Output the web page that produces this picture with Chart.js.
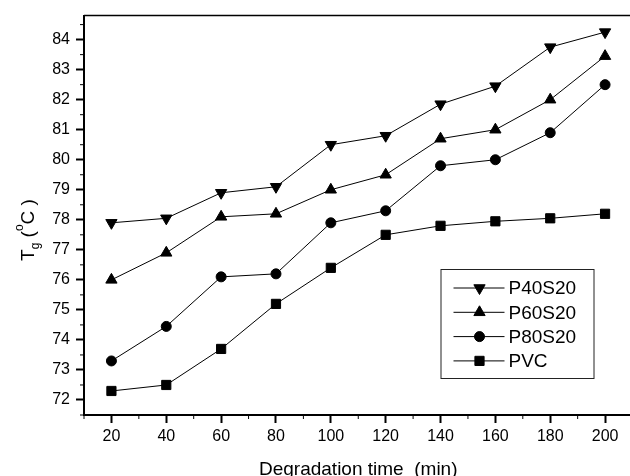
<!DOCTYPE html>
<html>
<head>
<meta charset="utf-8">
<script src="https://cdn.jsdelivr.net/npm/chart.js@4"></script>
<style>
    html, body { margin: 0; padding: 0; background: #fff; overflow: hidden; }
    #wrap { width: 640px; height: 476px; }
</style>
</head>
<body>
<div id="wrap"><canvas id="tgChart" width="640" height="476"></canvas></div>
<script>
const times = [20, 40, 60, 80, 100, 120, 140, 160, 180, 200];
const p40s20 = [77.9, 78.05, 78.9, 79.1, 80.5, 80.8, 81.85, 82.45, 83.75, 84.25];
const p60s20 = [76.0, 76.9, 78.1, 78.2, 79.0, 79.5, 80.7, 81.0, 82.0, 83.45];
const p80s20 = [73.3, 74.45, 76.1, 76.2, 77.9, 78.3, 79.8, 80.0, 80.9, 82.5];
const pvc    = [72.3, 72.5, 73.7, 75.2, 76.4, 77.5, 77.8, 77.95, 78.05, 78.2];

const xTicks = [20, 40, 60, 80, 100, 120, 140, 160, 180, 200];
const yTicks = [72, 73, 74, 75, 76, 77, 78, 79, 80, 81, 82, 83, 84];
const xMinor = [10, 30, 50, 70, 90, 110, 130, 150, 170, 190, 210];
const yMinor = [71.5, 72.5, 73.5, 74.5, 75.5, 76.5, 77.5, 78.5, 79.5, 80.5, 81.5, 82.5, 83.5, 84.5];

const FONT = "'Liberation Sans', Arial, sans-serif";
Chart.defaults.font.family = FONT;
Chart.defaults.color = '#000';

const toPoints = (vals) => times.map((t, i) => ({x: t, y: vals[i]}));

const seriesStyle = (label, vals, style, radius, rotation) => ({
    label: label,
    data: toPoints(vals),
    borderColor: '#000',
    borderWidth: 1,
    backgroundColor: '#000',
    pointStyle: style,
    pointRadius: radius,
    pointRotation: rotation,
    pointBackgroundColor: '#000',
    pointBorderColor: '#000',
    pointBorderWidth: 1,
    tension: 0
});

function drawMarker(ctx, style, radius, rotation, x, y) {
    if (Chart.helpers && Chart.helpers.drawPoint) {
        ctx.fillStyle = '#000';
        ctx.strokeStyle = '#000';
        ctx.lineWidth = 1;
        Chart.helpers.drawPoint(ctx, {pointStyle: style, radius: radius, rotation: rotation, borderWidth: 1}, x, y);
    }
}

const extras = {
    id: 'extras',
    afterDraw(chart) {
        const {ctx, chartArea: a, scales: {x, y}} = chart;
        ctx.save();
        ctx.strokeStyle = '#000';

        // top and right of the frame
        ctx.lineWidth = 1.5;
        ctx.beginPath();
        ctx.moveTo(a.left, a.top);
        ctx.lineTo(a.right, a.top);
        ctx.lineTo(a.right, a.bottom);
        ctx.stroke();

        // minor ticks
        ctx.lineWidth = 1;
        ctx.beginPath();
        xMinor.forEach(v => {
            const px = x.getPixelForValue(v);
            ctx.moveTo(px, a.bottom);
            ctx.lineTo(px, a.bottom + 4);
        });
        yMinor.forEach(v => {
            const py = y.getPixelForValue(v);
            ctx.moveTo(a.left, py);
            ctx.lineTo(a.left - 4, py);
        });
        ctx.stroke();

        // x title
        ctx.fillStyle = '#000';
        ctx.font = '19px ' + FONT;
        ctx.textAlign = 'center';
        ctx.textBaseline = 'alphabetic';
        ctx.fillText('Degradation time  (min)', (a.left + a.right) / 2, 475);

        // y title: T_g (°C)
        const parts = [
            {t: 'T', size: 19, dy: 0},
            {t: 'g', size: 12, dy: 5},
            {t: ' (', size: 19, dy: 0},
            {t: 'o', size: 12, dy: -11},
            {t: 'C', size: 19, dy: 0},
            {t: ' )', size: 19, dy: 0}
        ];
        let total = 0;
        parts.forEach(p => {
            ctx.font = p.size + 'px ' + FONT;
            p.w = ctx.measureText(p.t).width;
            total += p.w;
        });
        ctx.translate(34, 230);
        ctx.rotate(-Math.PI / 2);
        ctx.textAlign = 'left';
        let cx = -total / 2;
        parts.forEach(p => {
            ctx.font = p.size + 'px ' + FONT;
            ctx.fillText(p.t, cx, p.dy);
            cx += p.w;
        });
        ctx.setTransform(1, 0, 0, 1, 0, 0);

        // legend box
        const bx = a.right - 192, by = a.bottom - 146, bw = 153, bh = 109;
        ctx.strokeStyle = '#222';
        ctx.lineWidth = 1;
        ctx.strokeRect(bx + 0.5, by + 0.5, bw, bh);
        ctx.font = '19px ' + FONT;
        ctx.textBaseline = 'middle';
        ctx.textAlign = 'left';
        chart.data.datasets.forEach((ds, i) => {
            const ly = by + 19 + i * 24.3;
            ctx.strokeStyle = '#000';
            ctx.lineWidth = 1;
            ctx.beginPath();
            ctx.moveTo(bx + 13, ly);
            ctx.lineTo(bx + 64, ly);
            ctx.stroke();
            drawMarker(ctx, ds.pointStyle, ds.pointRadius, ds.pointRotation || 0, bx + 39, ly);
            ctx.fillStyle = '#000';
            ctx.fillText(ds.label, bx + 68, ly + 1);
        });
        ctx.restore();
    }
};

new Chart(document.getElementById('tgChart'), {
    type: 'line',
    data: {
        datasets: [
            seriesStyle('P40S20', p40s20, 'triangle', 6.5, 180),
            seriesStyle('P60S20', p60s20, 'triangle', 6.5, 0),
            seriesStyle('P80S20', p80s20, 'circle', 5, 0),
            seriesStyle('PVC', pvc, 'rect', 6.5, 0)
        ]
    },
    plugins: [extras],
    options: {
        responsive: false,
        animation: false,
        layout: { padding: { top: 12, right: 4, left: 0, bottom: 0 } },
        plugins: {
            legend: { display: false },
            tooltip: { enabled: false }
        },
        scales: {
            x: {
                type: 'linear',
                min: 10,
                max: 210,
                afterBuildTicks: (scale) => { scale.ticks = xTicks.map(v => ({value: v})); },
                afterFit: (scale) => { scale.height = 61; },
                grid: {
                    drawOnChartArea: false,
                    drawTicks: true,
                    tickLength: 8,
                    tickWidth: 2,
                    tickColor: '#000'
                },
                border: { display: true, color: '#000', width: 2 },
                ticks: {
                    color: '#000',
                    padding: 4,
                    maxRotation: 0,
                    font: { size: 16 }
                }
            },
            y: {
                min: 71.5,
                max: 84.8,
                afterBuildTicks: (scale) => { scale.ticks = yTicks.map(v => ({value: v})); },
                afterFit: (scale) => { scale.width = 84; },
                grid: {
                    drawOnChartArea: false,
                    drawTicks: true,
                    tickLength: 8,
                    tickWidth: 2,
                    tickColor: '#000'
                },
                border: { display: true, color: '#000', width: 2 },
                ticks: {
                    color: '#000',
                    padding: 6,
                    font: { size: 16 }
                }
            }
        }
    }
});
</script>
</body>
</html>
